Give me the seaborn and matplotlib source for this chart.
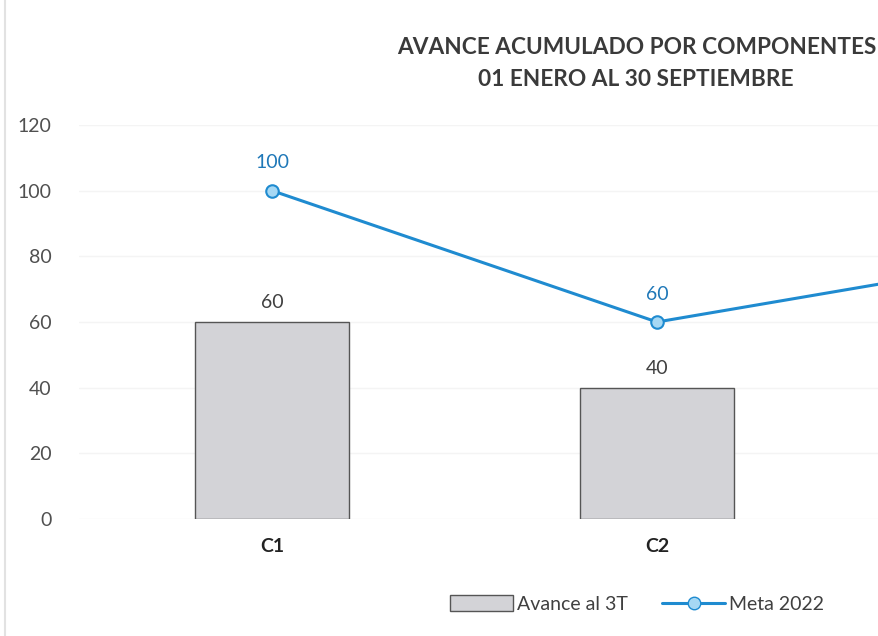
import numpy as np
import pandas as pd
import matplotlib
matplotlib.use("Agg")
import matplotlib.pyplot as plt
import seaborn as sns
from matplotlib.lines import Line2D
from matplotlib.patches import Patch

# data (C3 is cut off at the right edge; its bar is not visible)
componentes = ["C1", "C2", "C3"]
avance_3t = [60, 40, np.nan]
meta_2022 = [100, 60, 80]
y_ticks = [0, 20, 40, 60, 80, 100, 120]
n_visibles = 2  # only C1 and C2 fall inside the picture

df = pd.DataFrame({"comp": componentes, "avance": avance_3t, "meta": meta_2022})

sns.set_theme(style="white")
plt.rcParams["font.family"] = ["Lato", "DejaVu Sans"]

W, H = 879, 636
fig = plt.figure(figsize=(W / 100, H / 100), dpi=100)
# the original chart is wider than the picture, so the axes run past the right edge
left, right = 79.5, 1234.5
ax = fig.add_axes([left / W, (H - 519) / H, (right - left) / W, (519 - 125) / H])

bar_col = "#d3d3d7"
line_col = "#1f8bd0"

sns.barplot(data=df, x="comp", y="avance", color=bar_col, width=0.4,
            edgecolor="#555555", linewidth=1.0, saturation=1, ax=ax, zorder=2)
sns.pointplot(data=df, x="comp", y="meta", color=line_col, markers="o",
              linestyles="-", ax=ax, zorder=3, markersize=9,
              markerfacecolor="#a6d8f4", markeredgecolor=line_col,
              markeredgewidth=1.5, linewidth=2.2)

for i, v in enumerate(avance_3t[:n_visibles]):
    ax.annotate(f"{v:.0f}", (i, v), xytext=(0, 8), textcoords="offset points",
                ha="center", va="bottom", fontsize=14, color="#404040")
for i, v in enumerate(meta_2022[:n_visibles]):
    ax.annotate(f"{v}", (i, v), xytext=(0, 14), textcoords="offset points",
                ha="center", va="bottom", fontsize=14, color="#1f78b8")

ax.set_xlim(-0.5, 2.5)
ax.set_ylim(0, 120)
ax.set_yticks(y_ticks)
ax.tick_params(axis="y", labelsize=14, labelcolor="#505050", pad=20, length=0)
ax.tick_params(axis="x", labelsize=14, labelcolor="#222222", pad=14, length=0)
for k, lbl in enumerate(ax.get_xticklabels()):
    lbl.set_fontweight("bold")
    if k >= n_visibles:
        lbl.set_visible(False)
ax.set_xlabel("")
ax.set_ylabel("")
ax.grid(axis="y", color="#f4f4f4", linewidth=1)
ax.set_axisbelow(True)
sns.despine(ax=ax, left=True, bottom=True)

fig.text(637 / W, 1 - 48 / H, "AVANCE ACUMULADO POR COMPONENTES", ha="center",
         va="center", fontsize=16.3, fontweight="bold", color="#3a3a3a")
fig.text(636 / W, 1 - 79 / H, "01 ENERO AL 30 SEPTIEMBRE", ha="center",
         va="center", fontsize=16.3, fontweight="bold", color="#3a3a3a")

handles = [Patch(facecolor=bar_col, edgecolor="#555555", label="Avance al 3T"),
           Line2D([0], [0], color=line_col, lw=2.2, marker="o", markersize=9,
                  markerfacecolor="#a6d8f4", markeredgecolor=line_col,
                  label="Meta 2022")]
fig.legend(handles=handles, loc="center", bbox_to_anchor=(637 / W, 1 - 604 / H),
           ncol=2, frameon=False, fontsize=14, handlelength=3.2,
           handleheight=0.9, columnspacing=1.8, handletextpad=0.2,
           labelcolor="#404040")

fig.add_artist(Line2D([5 / W, 5 / W], [0, 1], color="#e2e2e2", lw=1.5))

fig.savefig("out.png", dpi=100)
